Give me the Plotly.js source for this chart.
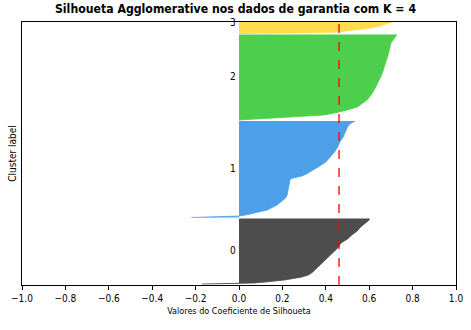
<!DOCTYPE html>
<html><head><meta charset="utf-8">
<script src="https://cdn.plot.ly/plotly-3.0.1.min.js"></script>
<style>html,body{margin:0;padding:0;background:#fff}</style>
</head><body><div id="chart" style="width:471px;height:330px"></div>
<script>
// silhouette profiles (sorted values), position along y in sample units
const c0_y = [10, 13, 16, 20, 30, 50, 80, 100, 130, 160, 200, 240, 280, 320, 370, 420, 460, 500, 540, 580, 620, 650, 665];
const c0_x = [-0.17, -0.05, 0.0, 0.07, 0.12, 0.21, 0.29, 0.32, 0.34, 0.355, 0.37, 0.39, 0.41, 0.43, 0.455, 0.47, 0.50, 0.52, 0.545, 0.56, 0.58, 0.60, 0.60];
const c1_y = [675, 680, 685, 690, 700, 720, 750, 800, 850, 870, 900, 950, 1000, 1050, 1065, 1075, 1090, 1110, 1140, 1180, 1230, 1280, 1330, 1380, 1430, 1480, 1530, 1580, 1610, 1630, 1640];
const c1_x = [-0.22, -0.15, -0.04, 0.0, 0.03, 0.07, 0.13, 0.175, 0.205, 0.215, 0.222, 0.226, 0.23, 0.235, 0.24, 0.265, 0.29, 0.31, 0.335, 0.365, 0.40, 0.42, 0.44, 0.455, 0.465, 0.48, 0.49, 0.50, 0.51, 0.525, 0.535];
const c2_y = [1650, 1660, 1670, 1680, 1690, 1700, 1715, 1730, 1750, 1780, 1810, 1850, 1890, 1930, 1980, 2020, 2060, 2100, 2150, 2200, 2250, 2300, 2370, 2420, 2450, 2480, 2505];
const c2_x = [0.0, 0.08, 0.15, 0.24, 0.33, 0.39, 0.43, 0.465, 0.50, 0.545, 0.565, 0.59, 0.605, 0.618, 0.63, 0.64, 0.65, 0.657, 0.665, 0.673, 0.68, 0.687, 0.695, 0.70, 0.71, 0.72, 0.728];
const c3_y = [2515, 2518, 2522, 2530, 2545, 2565, 2590, 2615, 2640, 2680, 2725];
const c3_x = [0.0, 0.2, 0.35, 0.45, 0.52, 0.59, 0.65, 0.69, 0.72, 0.76, 0.80];
const clusterLabels = ["0", "1", "2", "3"];
const labelY = [345, 1165, 2085, 2630];
const avgSilhouette = 0.461;
const yMax = 2630;
const xTicks = [-1.0, -0.8, -0.6, -0.4, -0.2, 0.0, 0.2, 0.4, 0.6, 0.8, 1.0];
const colors = ["#4d4d4d", "#4da0e7", "#4dcf4d", "#ffdb4d"];

const ys = [c0_y, c1_y, c2_y, c3_y];
const xs = [c0_x, c1_x, c2_x, c3_x];
const traces = ys.map((y, i) => ({
  type: "scatter", mode: "lines", x: xs[i], y: y,
  fill: "tozerox", fillcolor: colors[i],
  line: {color: colors[i], width: 0.8, shape: "linear"},
  hoverinfo: "skip", showlegend: false
}));
traces.push({
  type: "scatter", mode: "lines", x: [avgSilhouette, avgSilhouette], y: [0, yMax],
  line: {color: "red", width: 1.3, dash: "dash"}, showlegend: false, hoverinfo: "skip"
});

const font = "DejaVu Sans Condensed, DejaVu Sans, sans-serif";
const layout = {
  width: 471, height: 330,
  margin: {l: 22, r: 15, t: 22, b: 45},
  paper_bgcolor: "#fff", plot_bgcolor: "#fff",
  font: {family: font, size: 10, color: "#000"},
  title: {text: "<b>Silhoueta Agglomerative nos dados de garantia com K = 4</b>",
          font: {family: font, size: 12.2, color: "#000"}, x: 0.5, xanchor: "center", y: 0.985, yanchor: "top"},
  xaxis: {range: [-1, 1], tickvals: xTicks, ticktext: xTicks.map(v => (v < 0 ? "\u2212" : "") + Math.abs(v).toFixed(1)),
          ticks: "outside", ticklen: 3.5, tickcolor: "#000", showgrid: false, zeroline: false,
          showline: true, mirror: true, linecolor: "#000", linewidth: 1,
          tickfont: {family: font, size: 10},
          title: {text: "Valores do Coeficiente de Silhoueta", font: {family: font, size: 9}, standoff: 5}},
  yaxis: {range: [0, yMax], showticklabels: false, ticks: "", showgrid: false, zeroline: false,
          showline: true, mirror: true, linecolor: "#000", linewidth: 1,
          title: {text: "Cluster label", font: {family: font, size: 10}, standoff: 2}},
  annotations: clusterLabels.map((t, i) => ({
    x: -0.05, y: labelY[i], xref: "x", yref: "y", text: t, showarrow: false,
    xanchor: "left", yanchor: "middle", font: {family: font, size: 10, color: "#000"}
  }))
};
Plotly.newPlot("chart", traces, layout, {displayModeBar: false, staticPlot: true});
</script></body></html>
